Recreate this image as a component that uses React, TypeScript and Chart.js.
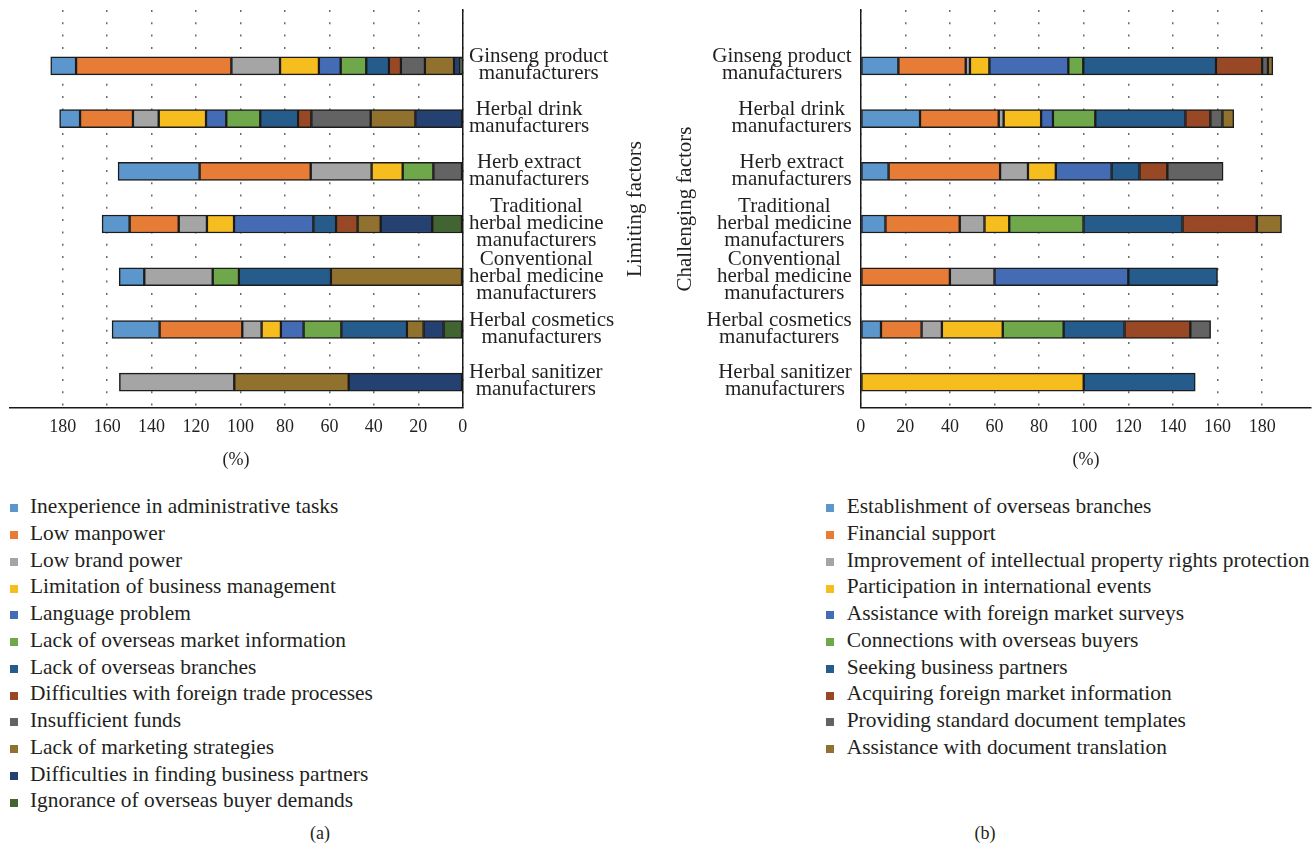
import React, { useEffect, useRef } from 'react';
import { Chart, registerables } from 'chart.js';

Chart.register(...registerables);

const FONT = '"Liberation Serif", "Times New Roman", Times, serif';
const TEXT = '#231f20';

// ---- shared categories & ticks ----
const categories: string[][] = [
  ['Ginseng product', 'manufacturers'],
  ['Herbal drink', 'manufacturers'],
  ['Herb extract', 'manufacturers'],
  ['Traditional', 'herbal medicine', 'manufacturers'],
  ['Conventional', 'herbal medicine', 'manufacturers'],
  ['Herbal cosmetics', 'manufacturers'],
  ['Herbal sanitizer', 'manufacturers'],
];
const xTickValues = [0, 20, 40, 60, 80, 100, 120, 140, 160, 180];

// ---- (a) limiting factors ----
const limitingLabels = [
  'Inexperience in administrative tasks',
  'Low manpower',
  'Low brand power',
  'Limitation of business management',
  'Language problem',
  'Lack of overseas market information',
  'Lack of overseas branches',
  'Difficulties with foreign trade processes',
  'Insufficient funds',
  'Lack of marketing strategies',
  'Difficulties in finding business partners',
  'Ignorance of overseas buyer demands',
];
const limitingColors = [
  '#5B96CD', '#E67C36', '#A5A5A5', '#F5BD1E', '#446CB4', '#6FA84A',
  '#265C8C', '#984824', '#626362', '#91712E', '#254171', '#426430',
];
const inexperienceAdmin = [11.4, 9.2, 36.7, 12.4, 11.3, 21.4, 0];
const lowManpower = [69.9, 23.8, 50.0, 22.1, 0, 37.2, 0];
const lowBrandPower = [21.9, 11.6, 27.4, 12.7, 30.8, 8.7, 51.7];
const limitationManagement = [17.5, 21.3, 14.0, 12.2, 0, 8.7, 0];
const languageProblem = [9.8, 9.1, 0, 35.7, 0, 10.2, 0];
const lackMarketInfo = [11.5, 15.3, 13.8, 0, 11.8, 17.0, 0];
const lackBranches = [10.2, 17.0, 0, 10.2, 41.4, 29.5, 0];
const tradeDifficulties = [5.4, 6.0, 0, 9.7, 0, 0, 0];
const insufficientFunds = [10.8, 26.7, 13.2, 0, 0, 0, 0];
const lackMarketing = [13.1, 20.1, 0, 10.4, 59.3, 7.5, 51.5];
const partnerDifficulties = [2.7, 21.3, 0, 23.2, 0, 9.0, 51.3];
const buyerIgnorance = [1.2, 0, 0, 13.7, 0, 8.6, 0];
const limitingSeries = [
  inexperienceAdmin, lowManpower, lowBrandPower, limitationManagement, languageProblem,
  lackMarketInfo, lackBranches, tradeDifficulties, insufficientFunds, lackMarketing,
  partnerDifficulties, buyerIgnorance,
];

// ---- (b) challenging factors ----
const challengingLabels = [
  'Establishment of overseas branches',
  'Financial support',
  'Improvement of intellectual property rights protection',
  'Participation in international events',
  'Assistance with foreign market surveys',
  'Connections with overseas buyers',
  'Seeking business partners',
  'Acquiring foreign market information',
  'Providing standard document templates',
  'Assistance with document translation',
];
const challengingColors = [
  '#5B96CD', '#E67C36', '#A5A5A5', '#F5BD1E', '#446CB4',
  '#6FA84A', '#265C8C', '#984824', '#626362', '#91712E',
];
const overseasBranches = [16.9, 26.6, 12.5, 11.1, 0, 9.1, 0];
const financialSupport = [30.2, 35.3, 50.0, 33.3, 40.0, 18.2, 0];
const ipProtection = [1.9, 2.2, 12.5, 11.1, 20.0, 9.1, 0];
const internationalEvents = [8.7, 16.8, 12.5, 11.1, 0, 27.3, 100];
const marketSurveys = [35.4, 5.3, 25.0, 0, 60.0, 0, 0];
const buyerConnections = [6.7, 19.0, 0, 33.3, 0, 27.3, 0];
const businessPartners = [59.5, 40.4, 12.5, 44.4, 40.0, 27.3, 50];
const marketInformation = [20.7, 11.2, 12.5, 33.3, 0, 29.5, 0];
const documentTemplates = [2.6, 5.4, 25.0, 0, 0, 9.1, 0];
const documentTranslation = [2.2, 5.1, 0, 11.1, 0, 0, 0];
const challengingSeries = [
  overseasBranches, financialSupport, ipProtection, internationalEvents, marketSurveys,
  buyerConnections, businessPartners, marketInformation, documentTemplates, documentTranslation,
];

const LINE_H = 17;
const XH_OFFSET = 4.8;

function categoryLabelPlugin(side: 'left' | 'right', gap: number) {
  return {
    id: 'categoryLabels' + side,
    afterDraw(chart: any) {
      const { ctx, chartArea } = chart;
      const yScale = chart.scales.y;
      ctx.save();
      ctx.font = `21px ${FONT}`;
      ctx.fillStyle = TEXT;
      ctx.textAlign = 'center';
      ctx.textBaseline = 'alphabetic';
      categories.forEach((lines, i) => {
        const cy = yScale.getPixelForValue(i);
        const w = Math.max(...lines.map((l) => ctx.measureText(l).width));
        const cx = side === 'right' ? chartArea.right + gap + w / 2 : chartArea.left - gap - w / 2;
        const n = lines.length;
        lines.forEach((l, j) => {
          ctx.fillText(l, cx, cy + (j - (n - 1) / 2) * LINE_H + XH_OFFSET);
        });
      });
      ctx.restore();
    },
  };
}

type ChartProps = {
  left: number;
  width: number;
  height: number;
  labels: string[];
  colors: string[];
  series: number[][];
  reverse: boolean;
  xMax: number;
  yPosition: 'left' | 'right';
  yWidth: number;
  padding: { top: number; left: number; right: number; bottom: number };
  labelGap: number;
};

function FactorChart(p: ChartProps) {
  const ref = useRef<HTMLCanvasElement>(null);
  useEffect(() => {
    const order = p.series.map((_, i) => i);
    if (p.reverse) order.reverse();
    const datasets = order.map((k) => ({
      label: p.labels[k],
      data: p.series[k].map((v, i) => ({ x: v, y: i })).filter((d) => d.x > 0),
      backgroundColor: p.colors[k],
      borderColor: '#1c1c1c',
      borderWidth: 1.5,
      borderSkipped: false,
      barThickness: 18,
    }));
    const chart = new Chart(ref.current as HTMLCanvasElement, {
      type: 'bar',
      data: { datasets },
      options: {
        animation: false,
        responsive: false,
        indexAxis: 'y',
        layout: { padding: p.padding },
        plugins: { legend: { display: false }, tooltip: { enabled: false } },
        scales: {
          x: {
            type: 'linear',
            stacked: true,
            min: 0,
            max: p.xMax,
            reverse: p.reverse,
            afterBuildTicks: (s: any) => {
              s.ticks = xTickValues.map((v) => ({ value: v }));
            },
            afterFit: (s: any) => {
              s.height = p.height - 407.5;
            },
            grid: { display: true, drawTicks: false, color: '#6a6a6a', lineWidth: 1.5 },
            border: { display: true, color: '#1a1a1a', width: 1.5, dash: [2, 10.3] },
            ticks: {
              padding: 9,
              color: TEXT,
              font: { family: FONT, size: 18 },
              maxRotation: 0,
              autoSkip: false,
            },
            title: {
              display: true,
              text: '(%)',
              color: TEXT,
              font: { family: FONT, size: 18 },
              padding: { top: 0, bottom: 9 },
            },
          },
          y: {
            type: 'linear',
            stacked: true,
            offset: false,
            position: p.yPosition,
            min: -1.06,
            max: 6.48,
            reverse: true,
            grid: { display: false },
            border: { display: true, color: '#1a1a1a', width: 1.5 },
            ticks: { display: false },
            afterFit: (s: any) => {
              s.width = p.yWidth;
            },
          },
        },
      } as any,
      plugins: [categoryLabelPlugin(p.yPosition === 'right' ? 'right' : 'left', p.labelGap)],
    });
    return () => chart.destroy();
  }, []);
  return (
    <canvas
      ref={ref}
      width={p.width}
      height={p.height}
      style={{ position: 'absolute', left: p.left, top: 0, width: p.width, height: p.height }}
    />
  );
}

const ROW_H = 26.75;
const LEGEND_TOP = 493;

function Legend(props: { labels: string[]; colors: string[]; left: number; gap: number }) {
  return (
    <div style={{ position: 'absolute', left: props.left, top: LEGEND_TOP }}>
      {props.labels.map((l, i) => (
        <div
          key={l}
          style={{ display: 'flex', alignItems: 'center', height: ROW_H, whiteSpace: 'nowrap' }}
        >
          <span
            style={{
              width: 8,
              height: 8,
              background: props.colors[i],
              marginTop: 4,
              marginRight: props.gap,
              flex: 'none',
            }}
          />
          <span style={{ font: `21.4px ${FONT}`, lineHeight: `${ROW_H}px`, color: TEXT }}>{l}</span>
        </div>
      ))}
    </div>
  );
}

function RotatedTitle(props: { text: string; cx: number; cy: number }) {
  return (
    <div
      style={{
        position: 'absolute',
        left: props.cx,
        top: props.cy,
        transform: 'translate(-50%, -50%) rotate(-90deg)',
        font: `21px ${FONT}`,
        lineHeight: '21px',
        color: TEXT,
        whiteSpace: 'nowrap',
      }}
    >
      {props.text}
    </div>
  );
}

function Caption(props: { text: string; cx: number; cy: number }) {
  return (
    <div
      style={{
        position: 'absolute',
        left: props.cx - 30,
        top: props.cy - 10,
        width: 60,
        textAlign: 'center',
        font: `18px ${FONT}`,
        lineHeight: '20px',
        color: TEXT,
      }}
    >
      {props.text}
    </div>
  );
}

export default function App() {
  return (
    <div
      style={{
        position: 'absolute',
        left: 0,
        top: 0,
        width: 1314,
        height: 850,
        background: '#fff',
        overflow: 'hidden',
      }}
    >
      <FactorChart
        left={0}
        width={655}
        height={480}
        labels={limitingLabels}
        colors={limitingColors}
        series={limitingSeries}
        reverse={true}
        xMax={204}
        yPosition="right"
        yWidth={192.3}
        padding={{ top: 10, left: 9.4, right: 0, bottom: 0 }}
        labelGap={6.3}
      />
      <FactorChart
        left={655}
        width={659}
        height={480}
        labels={challengingLabels}
        colors={challengingColors}
        series={challengingSeries}
        reverse={false}
        xMax={202}
        yPosition="left"
        yWidth={205.7}
        padding={{ top: 10, left: 0, right: 2.8, bottom: 0 }}
        labelGap={9}
      />
      <RotatedTitle text="Limiting factors" cx={634} cy={209} />
      <RotatedTitle text="Challenging factors" cx={684} cy={209} />
      <Legend labels={limitingLabels} colors={limitingColors} left={10} gap={12} />
      <Legend labels={challengingLabels} colors={challengingColors} left={826} gap={12.7} />
      <Caption text="(a)" cx={320} cy={833} />
      <Caption text="(b)" cx={985} cy={833} />
    </div>
  );
}
